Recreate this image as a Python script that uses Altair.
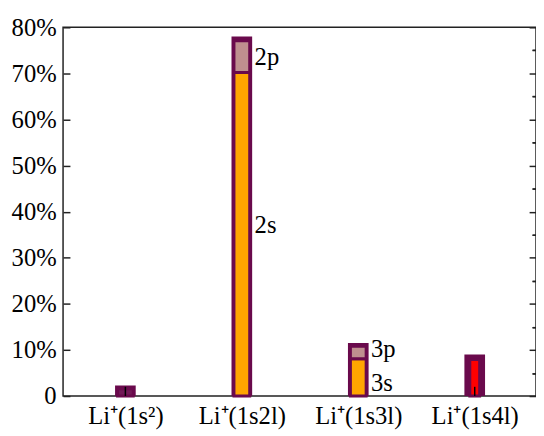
import altair as alt
import pandas as pd

# ---- data (values in percent) ----
categories = ["Li⁺(1s²)", "Li⁺(1s2l)", "Li⁺(1s3l)", "Li⁺(1s4l)"]
positions = [1, 2, 3, 4]
outer_total = [2.3, 78.0, 11.5, 9.0]

# ground-state inner bar (1s²)
gs_pos = [1]
gs_value = [1.6]

# n = 2,3 stacked s / p components
sp_pos = [2, 2, 3, 3]
sp_state = ["s", "p", "s", "p"]
sp_start = [0.0, 70.2, 0.0, 8.1]
sp_end = [70.2, 77.1, 8.1, 10.8]

# n = 4 inner bar
n4_pos = [4]
n4_value = [7.9]

label_text = ["2s", "2p", "3s", "3p"]
label_pos = [2, 2, 3, 3]
label_y = [37.1, 73.6, 2.9, 10.2]

# ---- styling ----
PURPLE = "#6a0a4c"
PURPLE_IN = "#721a57"
ORANGE = "#ffa500"
PINK = "#bf8f8f"
RED = "#ff0000"
FONT = "Liberation Serif"
FS = 25

outer_df = pd.DataFrame({"pos": positions, "lo": [0.0] * 4, "hi": outer_total})
gs_df = pd.DataFrame({"pos": gs_pos, "lo": [0.0], "hi": gs_value})
sp_df = pd.DataFrame({"pos": sp_pos, "state": sp_state, "lo": sp_start, "hi": sp_end})
n4_df = pd.DataFrame({"pos": n4_pos, "lo": [0.0], "hi": n4_value})
lab_df = pd.DataFrame({"pos": label_pos, "y": label_y, "text": label_text})
tick_df = pd.DataFrame({"pos": positions})

xscale = alt.Scale(domain=[0.507, 4.484], nice=False, zero=False)
yscale = alt.Scale(domain=[0, 80], nice=False)

cat_js = "[" + ",".join("'" + c + "'" for c in categories) + "]"

x_axis = alt.Axis(values=positions, ticks=False, domain=False, grid=False, title=None,
                  labelExpr=cat_js + "[datum.value-1]", labelFont=FONT, labelFontSize=FS,
                  labelColor="black", labelPadding=8)

y_common = dict(domain=False, grid=False, title=None, tickColor="#222", tickWidth=1.5)
y_left_major = alt.Axis(values=list(range(0, 81, 10)), tickSize=7, offset=-7,
                        labelExpr="datum.value == 0 ? '0' : datum.value + '%'",
                        labelFont=FONT, labelFontSize=FS, labelColor="black",
                        labelPadding=7, **y_common)
y_left_minor = alt.Axis(values=list(range(5, 80, 10)), tickSize=4, offset=-4,
                        labels=False, **y_common)
y_right_major = alt.Axis(orient="right", values=list(range(0, 81, 10)), tickSize=7,
                         offset=-7, labels=False, **y_common)
y_right_minor = alt.Axis(orient="right", values=list(range(5, 80, 10)), tickSize=4,
                         offset=-4, labels=False, **y_common)

outer = alt.Chart(outer_df).mark_bar(size=21, color=PURPLE).encode(
    x=alt.X("pos:Q", scale=xscale, axis=x_axis),
    y=alt.Y("lo:Q", scale=yscale, axis=y_left_major),
    y2="hi:Q",
)

gs = alt.Chart(gs_df).mark_bar(size=16, color=PURPLE_IN, stroke=PURPLE, strokeWidth=3).encode(
    x=alt.X("pos:Q", scale=xscale, axis=None),
    y=alt.Y("lo:Q", scale=yscale, axis=y_left_minor),
    y2="hi:Q",
)

n4 = alt.Chart(n4_df).mark_bar(size=10, color=RED, stroke=PURPLE, strokeWidth=3).encode(
    x=alt.X("pos:Q", scale=xscale, axis=None),
    y=alt.Y("lo:Q", scale=yscale, axis=None),
    y2="hi:Q",
)

ticks = alt.Chart(tick_df).mark_rule(color="black", strokeWidth=1.5).encode(
    x=alt.X("pos:Q", scale=xscale, axis=None),
    y=alt.datum(0, scale=yscale, axis=None),
    y2=alt.datum(2.0),
)

sp = alt.Chart(sp_df).mark_bar(size=16, stroke=PURPLE, strokeWidth=3).encode(
    x=alt.X("pos:Q", scale=xscale, axis=None),
    y=alt.Y("lo:Q", scale=yscale, axis=y_right_major),
    y2="hi:Q",
    color=alt.Color("state:N", scale=alt.Scale(domain=["s", "p"], range=[ORANGE, PINK]),
                    legend=None),
)

labels = alt.Chart(lab_df).mark_text(align="left", baseline="middle", dx=13, font=FONT,
                                     fontSize=FS, color="black").encode(
    x=alt.X("pos:Q", scale=xscale, axis=None),
    y=alt.Y("y:Q", scale=yscale, axis=y_right_minor),
    text="text:N",
)

chart = alt.layer(outer, gs, n4, ticks, sp, labels).resolve_axis(
    x="independent", y="independent"
).properties(
    width=481, height=375,
    padding={"left": 56, "top": 16, "right": 0, "bottom": 36},
    autosize=alt.AutoSizeParams(type="none"),
).configure_view(stroke="#222", strokeWidth=1.5)

chart.save("out.html", embed_options={"renderer": "svg", "actions": False})
